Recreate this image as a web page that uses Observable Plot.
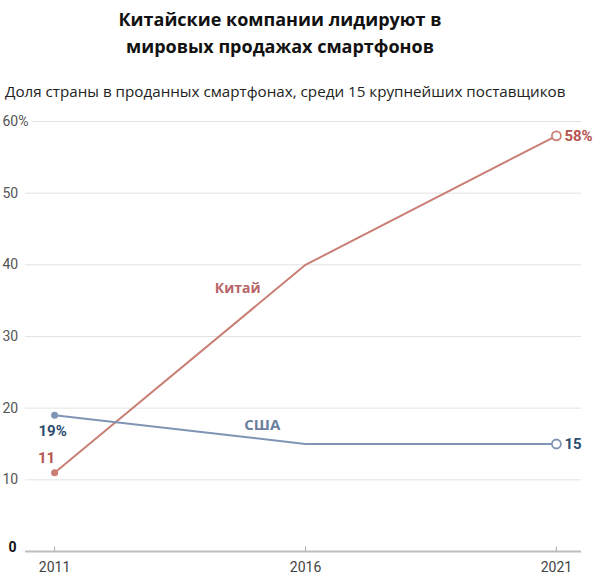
<!DOCTYPE html>
<html>
<head>
<meta charset="utf-8">
<script src="https://cdn.jsdelivr.net/npm/d3@7"></script>
<script src="https://cdn.jsdelivr.net/npm/@observablehq/plot@0.6"></script>
<style>
  body { margin: 0; background: #fff; width: 605px; height: 575px; position: relative; overflow: hidden; }
  #title { position: absolute; top: 6px; left: 0; width: 560px; text-align: center; font-family: "Open Sans", sans-serif; font-weight: 700; font-size: 18px; line-height: 27px; color: #111; }
  #subtitle { position: absolute; top: 81px; left: 5px; font-family: "Open Sans", sans-serif; font-size: 15.2px; line-height: 20px; color: #222; white-space: nowrap; }
  #chart { position: absolute; top: 105px; left: 0; }
</style>
</head>
<body>
<div id="title">Китайские компании лидируют в<br>мировых продажах смартфонов</div>
<div id="subtitle">Доля страны в проданных смартфонах, среди 15 крупнейших поставщиков</div>
<div id="chart"></div>
<script>
const years = [2011, 2016, 2021];
const china = [11, 40, 58];
const usa = [19, 15, 15];
const yTicks = [10, 20, 30, 40, 50, 60];
const yTickLabels = ["10", "20", "30", "40", "50", "60%"];

const chinaColor = "#c97f75";
const usaColor = "#7f95b5";

const chinaData = years.map((y, i) => ({year: y, value: china[i]}));
const usaData = years.map((y, i) => ({year: y, value: usa[i]}));

const xMin = 2010.42, xMax = 2021.5;

const plot = Plot.plot({
  width: 605,
  height: 470,
  marginTop: 16,
  marginBottom: 24,
  marginLeft: 25,
  marginRight: 24,
  x: {domain: [xMin, xMax], axis: null},
  y: {domain: [0, 60], axis: null},
  style: {fontFamily: "Roboto, sans-serif", background: "#fff"},
  marks: [
    Plot.ruleY(yTicks, {x1: xMin, x2: xMax, stroke: "#e2e2e2", strokeWidth: 1}),
    Plot.text(yTicks.map((t, i) => ({t, label: yTickLabels[i]})), {
      x: xMin, y: "t", text: "label", textAnchor: "start", dx: -23,
      fill: "#555", fontSize: 14, stroke: "white", strokeWidth: 8, paintOrder: "stroke"
    }),
    Plot.ruleY([0], {x1: xMin, x2: xMax, stroke: "#bdbdbd", strokeWidth: 2}),
    Plot.text([0], {x: xMin, y: d => d, text: () => "0", textAnchor: "start", dx: -17, dy: -4, fill: "#111", fontWeight: "bold", fontSize: 14}),
    Plot.ruleX(years, {x: d => d, y1: 0, y2: 0.6, stroke: "#aaa"}),
    Plot.text(years, {x: d => d, y: 0, text: d => String(d), dy: 16, fill: "#444", fontSize: 14}),
    Plot.line(chinaData, {x: "year", y: "value", stroke: chinaColor, strokeWidth: 2}),
    Plot.line(usaData, {x: "year", y: "value", stroke: usaColor, strokeWidth: 2}),
    Plot.dot([chinaData[0]], {x: "year", y: "value", r: 3.5, fill: chinaColor, stroke: "none"}),
    Plot.dot([usaData[0]], {x: "year", y: "value", r: 3.5, fill: usaColor, stroke: "none"}),
    Plot.dot([chinaData[2]], {x: "year", y: "value", r: 4.5, fill: "white", stroke: chinaColor, strokeWidth: 1.8}),
    Plot.dot([usaData[2]], {x: "year", y: "value", r: 4.5, fill: "white", stroke: usaColor, strokeWidth: 1.8}),
    Plot.text([chinaData[0]], {x: "year", y: "value", text: d => String(d.value), dx: -8, dy: -14, fill: "#b5544e", fontWeight: "bold", fontSize: 15}),
    Plot.text([usaData[0]], {x: "year", y: "value", text: d => d.value + "%", dx: -2, dy: 16, fill: "#2e4d6e", fontWeight: "bold", fontSize: 15}),
    Plot.text([chinaData[2]], {x: "year", y: "value", text: d => d.value + "%", textAnchor: "start", dx: 8, fill: "#b5544e", fontWeight: "bold", fontSize: 15}),
    Plot.text([usaData[2]], {x: "year", y: "value", text: d => String(d.value), textAnchor: "start", dx: 8, fill: "#2e4d6e", fontWeight: "bold", fontSize: 15}),
    Plot.text([{x: 2014.65, y: 36.7, label: "Китай"}], {x: "x", y: "y", text: "label", fill: "#b8666a", fontWeight: "bold", fontSize: 14, fontFamily: "Open Sans, sans-serif"}),
    Plot.text([{x: 2015.14, y: 17.6, label: "США"}], {x: "x", y: "y", text: "label", fill: "#6a7f9c", fontWeight: "bold", fontSize: 15, fontFamily: "Open Sans, sans-serif"})
  ]
});
document.getElementById("chart").appendChild(plot);
</script>
</body>
</html>
